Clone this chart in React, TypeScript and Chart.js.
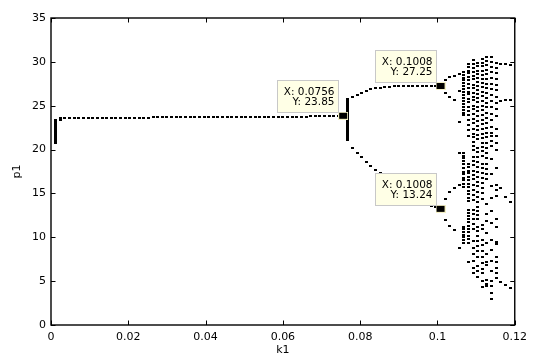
import React, { useEffect, useRef } from 'react';
import { Chart, registerables } from 'chart.js';

Chart.register(...registerables);

// ---------- data ----------
const K1_STEP = 0.0012;

const xTickValues = [0, 0.02, 0.04, 0.06, 0.08, 0.1, 0.12];
const xTickLabels = ['0', '0.02', '0.04', '0.06', '0.08', '0.1', '0.12'];
const yTickValues = [0, 5, 10, 15, 20, 25, 30, 35];
const yTickLabels = ['0', '5', '10', '15', '20', '25', '30', '35'];

// first k1 column: transient spread
const transientK1 = 0.0012;
const transientP1 = [23.4, 23.2, 23.0, 22.8, 22.6, 22.4, 22.2, 22.0, 21.8, 21.6, 21.4, 21.2, 21.0, 20.8];

const secondK1 = 0.0024;
const secondP1 = [23.55, 23.4];

// stable fixed point from k1 = 0.0036 up to 0.0744
const fixedStartK1 = 0.0036;
const fixedP1 = [
  23.58, 23.59, 23.6, 23.6, 23.61, 23.61, 23.62, 23.62, 23.62, 23.63,
  23.63, 23.63, 23.64, 23.64, 23.64, 23.65, 23.65, 23.65, 23.65, 23.66,
  23.66, 23.66, 23.66, 23.67, 23.67, 23.67, 23.67, 23.68, 23.68, 23.68,
  23.68, 23.69, 23.69, 23.69, 23.7, 23.7, 23.7, 23.7, 23.71, 23.71,
  23.71, 23.72, 23.72, 23.72, 23.73, 23.73, 23.74, 23.74, 23.75, 23.75,
  23.76, 23.76, 23.77, 23.78, 23.78, 23.79, 23.8, 23.81, 23.82, 23.83,
];

const tipK1A = 0.0756;
const tipP1A = 23.85;

// bifurcation column (transient bar)
const bifK1 = 0.0768;
const bifP1 = [
  25.8, 25.6, 25.4, 25.2, 25.0, 24.8, 24.6, 24.4, 24.2, 24.0, 23.8, 23.6,
  23.4, 23.2, 23.0, 22.8, 22.6, 22.4, 22.2, 22.0, 21.8, 21.6, 21.4, 21.2, 21.1,
];

// period-2 branches, k1 = 0.0780 .. 0.1008
const branchStartK1 = 0.078;
const upperBranchP1 = [
  25.95, 26.25, 26.5, 26.7, 26.85, 26.97, 27.06, 27.12, 27.17, 27.2,
  27.23, 27.25, 27.27, 27.28, 27.28, 27.28, 27.27, 27.27, 27.26, 27.25,
];
const lowerBranchP1 = [
  20.2, 19.6, 19.1, 18.6, 18.15, 17.7, 17.3, 16.9, 16.5, 16.1,
  15.75, 15.4, 15.05, 14.7, 14.4, 14.1, 13.85, 13.6, 13.4, 13.24,
];

// period-4 / chaotic region
const chaosK1 = [0.102, 0.1032, 0.1044, 0.1056, 0.1068, 0.108, 0.1092, 0.1104, 0.1116, 0.1128, 0.114, 0.1152, 0.1164, 0.1176, 0.1188];
const chaosP1 = [
  [27.9, 26.5, 14.4, 12.0],
  [28.3, 26.0, 15.2, 11.3],
  [28.4, 25.65, 15.6, 10.8],
  [28.6, 26.7, 23.1, 19.6, 16.0, 8.8],
  [28.8, 28.5, 28.2, 27.9, 27.6, 27.2, 26.9, 26.6, 26.2, 25.9, 25.5, 25.2, 24.9, 24.5, 24.2, 23.9,
    19.6, 19.3, 19.0, 18.7, 18.3, 17.9, 17.5, 17.2, 16.8, 16.5, 16.1, 15.7,
    11.2, 10.9, 10.6, 10.3, 10.0, 9.7, 9.4],
  [29.8, 29.4, 29.0, 28.7, 28.3, 27.9, 27.5, 27.0, 26.6, 26.3, 25.8, 25.4, 24.9, 24.4, 23.9, 23.4, 22.8, 22.2, 21.6,
    18.4, 18.0, 17.6, 17.3, 16.9, 16.5, 16.1, 15.7, 15.3, 14.9, 14.5, 14.1,
    13.1, 12.8, 12.4, 12.1, 11.7, 11.3, 11.0, 10.6, 10.2, 9.8, 9.4, 7.2],
  [30.2, 29.8, 29.3, 28.9, 28.4, 28.0, 27.4, 27.0, 26.5, 26.0, 25.6, 25.0, 24.6, 24.1, 23.5, 23.0, 22.4, 21.8,
    21.4, 20.9, 20.4, 19.9, 19.2, 18.7, 18.2, 17.6, 17.1, 16.6, 16.0, 15.4, 14.8, 14.3,
    13.1, 12.6, 12.1, 11.5, 11.0, 9.6, 8.8, 8.1, 7.3, 6.5, 5.9],
  [29.9, 29.5, 29.0, 28.6, 28.2, 27.7, 27.3, 26.8, 26.3, 25.9, 25.4, 24.9, 24.4, 23.8, 23.3, 22.7, 22.2, 21.7,
    21.2, 20.2, 19.7, 19.1, 18.6, 18.0, 17.4, 16.9, 16.3, 15.8, 15.2, 14.6, 14.0, 13.4,
    13.0, 12.5, 12.1, 11.2, 10.7, 10.1, 9.6, 9.0, 8.4, 7.7, 6.7, 6.1, 5.5],
  [30.3, 29.9, 29.5, 29.0, 28.5, 28.1, 27.6, 27.1, 26.6, 26.1, 25.5, 25.0, 24.5, 23.9, 23.4, 22.9, 22.3, 21.8,
    21.3, 20.8, 20.3, 19.8, 19.3, 18.4, 17.9, 17.3, 16.8, 16.2, 15.6, 15.0, 14.4,
    11.4, 10.9, 9.7, 9.1, 8.4, 7.8, 7.1, 6.4, 5.9, 5.0, 4.3],
  [30.6, 30.1, 29.6, 29.1, 28.6, 28.0, 27.5, 27.0, 26.5, 25.9, 25.3, 24.8, 24.2, 23.6, 23.0, 22.5, 21.9, 21.4,
    20.8, 20.2, 19.6, 19.0, 18.4, 17.8, 17.2, 16.6, 13.8, 12.6, 11.9, 10.5, 9.4, 8.1, 7.2, 6.8, 5.1, 4.7, 4.4],
  [30.5, 30.0, 29.4, 28.8, 28.2, 27.5, 26.9, 26.2, 25.5, 24.8, 24.1, 23.4, 22.6, 21.9, 21.5, 21.0, 20.4,
    18.9, 17.2, 15.9, 14.5, 13.0, 11.6, 9.7, 8.5, 7.3, 6.2, 5.0, 4.5, 3.6, 3.0],
  [29.9, 29.3, 28.7, 28.1, 27.4, 26.8, 26.0, 25.3, 24.6, 23.8, 22.3, 21.6, 20.8, 19.9, 17.9,
    16.0, 15.4, 14.7, 12.1, 11.2, 9.5, 9.2, 7.8, 7.2, 6.5, 5.9, 5.4],
  [29.8, 25.5, 15.6, 4.9],
  [29.7, 25.6, 14.6, 4.6],
  [29.6, 25.7, 14.0, 4.2],
];

// MATLAB data tips
const tipK1 = [0.0756, 0.1008, 0.1008];
const tipP1 = [23.85, 27.25, 13.24];
const tipXText = ['0.0756', '0.1008', '0.1008'];
const tipYText = ['23.85', '27.25', '13.24'];

// ---------- build point table ----------
function buildPoints() {
  const pts: { x: number; y: number }[] = [];
  transientP1.forEach((p) => pts.push({ x: transientK1, y: p }));
  secondP1.forEach((p) => pts.push({ x: secondK1, y: p }));
  fixedP1.forEach((p, i) => pts.push({ x: fixedStartK1 + i * K1_STEP, y: p }));
  pts.push({ x: tipK1A, y: tipP1A });
  bifP1.forEach((p) => pts.push({ x: bifK1, y: p }));
  upperBranchP1.forEach((p, i) => pts.push({ x: branchStartK1 + i * K1_STEP, y: p }));
  lowerBranchP1.forEach((p, i) => pts.push({ x: branchStartK1 + i * K1_STEP, y: p }));
  chaosK1.forEach((k, i) => chaosP1[i].forEach((p) => pts.push({ x: k, y: p })));
  return pts;
}

const FONT = '"DejaVu Sans", sans-serif';

function makeDot(): HTMLCanvasElement {
  const c = document.createElement('canvas');
  c.width = 3;
  c.height = 2;
  const g = c.getContext('2d')!;
  g.fillStyle = '#000';
  g.fillRect(0, 0, 3, 2);
  return c;
}

function makeTipMarker(): HTMLCanvasElement {
  const c = document.createElement('canvas');
  c.width = 10;
  c.height = 8;
  const g = c.getContext('2d')!;
  g.fillStyle = '#f4f0c4';
  g.fillRect(0, 0, 10, 8);
  g.fillStyle = '#000';
  g.fillRect(1, 1, 8, 6);
  return c;
}

const matlabFrame = {
  id: 'matlabFrame',
  afterDatasetsDraw(chart: any) {
    const { ctx, scales } = chart;
    const xs = scales.x;
    const ys = scales.y;
    ctx.save();
    ctx.font = `10.5px ${FONT}`;
    for (let i = 0; i < tipK1.length; i++) {
      const px = xs.getPixelForValue(tipK1[i]);
      const py = ys.getPixelForValue(tipP1[i]);
      const right = Math.round(px - 5) + 0.5;
      const bottom = Math.round(py - 4) + 0.5;
      const w = 61;
      const h = 32;
      const left = right - w;
      const top = bottom - h;
      ctx.fillStyle = '#ffffe6';
      ctx.fillRect(left, top, w, h);
      ctx.strokeStyle = '#c8c8c8';
      ctx.lineWidth = 1;
      ctx.strokeRect(left, top, w, h);
      ctx.fillStyle = '#000';
      ctx.textAlign = 'right';
      ctx.textBaseline = 'middle';
      ctx.fillText(`X: ${tipXText[i]}`, right - 4, top + 11.5);
      ctx.fillText(`Y: ${tipYText[i]}`, right - 4, top + 22);
    }
    ctx.restore();
  },
  afterDraw(chart: any) {
    const { ctx, chartArea: a, scales } = chart;
    ctx.save();
    ctx.strokeStyle = '#000';
    ctx.lineWidth = 1.4;
    ctx.strokeRect(a.left, a.top, a.right - a.left, a.bottom - a.top);
    const tl = 4.5;
    ctx.lineWidth = 1;
    ctx.beginPath();
    xTickValues.forEach((v) => {
      const px = Math.round(scales.x.getPixelForValue(v)) + 0.5;
      ctx.moveTo(px, a.bottom);
      ctx.lineTo(px, a.bottom - tl);
      ctx.moveTo(px, a.top);
      ctx.lineTo(px, a.top + tl);
    });
    yTickValues.forEach((v) => {
      const py = Math.round(scales.y.getPixelForValue(v)) + 0.5;
      ctx.moveTo(a.left, py);
      ctx.lineTo(a.left + tl, py);
      ctx.moveTo(a.right, py);
      ctx.lineTo(a.right - tl, py);
    });
    ctx.stroke();
    ctx.restore();
  },
};

export default function App() {
  const ref = useRef<HTMLCanvasElement | null>(null);

  useEffect(() => {
    const canvas = ref.current;
    if (!canvas) return;
    const dot = makeDot();
    const marker = makeTipMarker();
    const points = buildPoints();
    const markers = tipK1.map((k, i) => ({ x: k, y: tipP1[i] }));
    const tickFont = { family: FONT, size: 11 };

    const chart = new Chart(canvas, {
      type: 'scatter',
      data: {
        datasets: [
          { data: markers, pointStyle: marker as any, pointRadius: 5, order: 0 },
          { data: points, pointStyle: dot as any, pointRadius: 2, order: 1 },
        ],
      },
      options: {
        animation: false,
        responsive: false,
        events: [],
        layout: { padding: { left: 0, top: 18, right: 13, bottom: 0 } },
        plugins: { legend: { display: false }, tooltip: { enabled: false } },
        scales: {
          x: {
            type: 'linear',
            min: 0,
            max: 0.12,
            grid: { display: false, drawTicks: false },
            border: { display: false },
            afterBuildTicks: (s: any) => {
              s.ticks = xTickValues.map((v) => ({ value: v }));
            },
            ticks: {
              padding: 6,
              color: '#000',
              font: tickFont,
              maxRotation: 0,
              autoSkip: false,
              callback: (v: any) => {
                const i = xTickValues.findIndex((t) => Math.abs(t - Number(v)) < 1e-9);
                return i >= 0 ? xTickLabels[i] : '';
              },
            },
            title: { display: true, text: 'k1', color: '#000', font: tickFont, padding: { top: 0, bottom: -3 } },
            afterFit: (s: any) => {
              s.height = 29;
            },
          },
          y: {
            type: 'linear',
            min: 0,
            max: 35,
            grid: { display: false, drawTicks: false },
            border: { display: false },
            afterBuildTicks: (s: any) => {
              s.ticks = yTickValues.map((v) => ({ value: v }));
            },
            ticks: {
              padding: 5,
              color: '#000',
              font: tickFont,
              autoSkip: false,
              callback: (v: any) => {
                const i = yTickValues.indexOf(Number(v));
                return i >= 0 ? yTickLabels[i] : '';
              },
            },
            title: { display: true, text: 'p1', color: '#000', font: tickFont, padding: { top: 11, bottom: 0 } },
            afterFit: (s: any) => {
              s.width = 51;
            },
          },
        },
      },
      plugins: [matlabFrame],
    });
    return () => chart.destroy();
  }, []);

  return (
    <div style={{ position: 'fixed', left: 0, top: 0, width: 533, height: 354, background: '#fff' }}>
      <canvas ref={ref} width={533} height={354} style={{ display: 'block' }} />
    </div>
  );
}
